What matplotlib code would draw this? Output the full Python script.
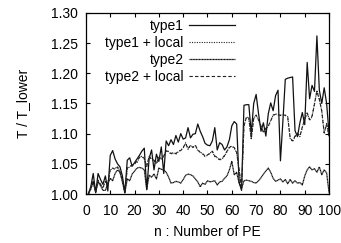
import matplotlib
matplotlib.use("Agg")
import matplotlib.pyplot as plt

plt.rcParams['font.family'] = ['Liberation Sans', 'DejaVu Sans']
plt.rcParams['font.size'] = 10

n = list(range(1, 101))

type1 = [1.000, 1.012, 1.034, 1.002, 1.034, 1.024, 1.016, 1.030, 1.005, 1.064,
         1.072, 1.058, 1.050, 1.045, 1.030, 1.002, 1.056, 1.060, 1.046, 1.052,
         1.058, 1.064, 1.071, 1.076, 1.007, 1.059, 1.073, 1.040, 1.066, 1.054,
         1.078, 1.034, 1.088, 1.080, 1.090, 1.082, 1.097, 1.086, 1.100, 1.091,
         1.093, 1.110, 1.093, 1.099, 1.100, 1.116, 1.104, 1.095, 1.084, 1.081,
         1.080, 1.088, 1.110, 1.073, 1.085, 1.082, 1.073, 1.078, 1.090, 1.113,
         1.120, 1.116, 1.020, 1.006, 1.147, 1.148, 1.148, 1.100, 1.150, 1.165,
         1.133, 1.104, 1.118, 1.096, 1.133, 1.151, 1.138, 1.163, 1.172, 1.055,
         1.120, 1.190, 1.192, 1.193, 1.194, 1.105, 1.095, 1.118, 1.135, 1.115,
         1.218, 1.158, 1.180, 1.170, 1.262, 1.172, 1.150, 1.176, 1.150, 1.100]

type1_local = [1.000, 1.010, 1.020, 1.004, 1.022, 1.015, 1.010, 1.020, 1.018, 1.040,
               1.042, 1.043, 1.044, 1.038, 1.025, 1.003, 1.042, 1.045, 1.048, 1.050,
               1.052, 1.060, 1.063, 1.058, 1.046, 1.062, 1.058, 1.055, 1.050, 1.060,
               1.058, 1.062, 1.072, 1.070, 1.066, 1.068, 1.066, 1.070, 1.073, 1.076,
               1.085, 1.074, 1.080, 1.078, 1.080, 1.072, 1.070, 1.066, 1.062, 1.064,
               1.068, 1.070, 1.062, 1.060, 1.056, 1.058, 1.063, 1.070, 1.078, 1.079,
               1.076, 1.068, 1.040, 1.008, 1.112, 1.128, 1.125, 1.090, 1.126, 1.130,
               1.122, 1.112, 1.102, 1.108, 1.112, 1.122, 1.130, 1.133, 1.131, 1.131,
               1.131, 1.131, 1.128, 1.092, 1.087, 1.095, 1.100, 1.095, 1.110, 1.125,
               1.135, 1.122, 1.128, 1.150, 1.172, 1.156, 1.138, 1.100, 1.117, 1.095]

type2 = [1.000, 1.008, 1.020, 1.003, 1.020, 1.014, 1.006, 1.006, 1.017, 1.026,
         1.022, 1.034, 1.040, 1.036, 1.020, 1.002, 1.025, 1.022, 1.033, 1.038,
         1.043, 1.044, 1.043, 1.040, 1.008, 1.031, 1.028, 1.033, 1.025, 1.043,
         1.041, 1.040, 1.036, 1.028, 1.018, 1.019, 1.021, 1.020, 1.018, 1.024,
         1.031, 1.033, 1.032, 1.030, 1.025, 1.020, 1.012, 1.018, 1.016, 1.022,
         1.020, 1.021, 1.022, 1.015, 1.020, 1.021, 1.026, 1.030, 1.040, 1.054,
         1.032, 1.036, 1.018, 1.009, 1.022, 1.023, 1.022, 1.021, 1.019, 1.018,
         1.022, 1.027, 1.033, 1.038, 1.043, 1.036, 1.026, 1.021, 1.023, 1.025,
         1.020, 1.024, 1.017, 1.024, 1.018, 1.022, 1.018, 1.019, 1.015, 1.030,
         1.040, 1.045, 1.040, 1.042, 1.036, 1.045, 1.032, 1.040, 1.035, 1.002]

type2_local = [1.000, 1.011, 1.021, 1.004, 1.023, 1.016, 1.011, 1.021, 1.016, 1.041,
               1.043, 1.041, 1.045, 1.036, 1.024, 1.003, 1.043, 1.046, 1.047, 1.051,
               1.054, 1.061, 1.062, 1.059, 1.045, 1.063, 1.057, 1.056, 1.051, 1.061,
               1.059, 1.063, 1.071, 1.071, 1.067, 1.069, 1.067, 1.071, 1.072, 1.077,
               1.084, 1.075, 1.081, 1.077, 1.081, 1.073, 1.069, 1.067, 1.063, 1.065,
               1.067, 1.071, 1.063, 1.061, 1.057, 1.059, 1.064, 1.071, 1.077, 1.080,
               1.077, 1.069, 1.041, 1.009, 1.113, 1.127, 1.126, 1.092, 1.125, 1.131,
               1.123, 1.113, 1.103, 1.109, 1.113, 1.121, 1.131, 1.132, 1.132, 1.130,
               1.132, 1.130, 1.127, 1.093, 1.088, 1.096, 1.101, 1.096, 1.111, 1.124,
               1.134, 1.123, 1.129, 1.149, 1.170, 1.157, 1.137, 1.101, 1.116, 1.096]

fig = plt.figure(figsize=(3.41, 2.43), dpi=100)
ax = fig.add_axes([0.252, 0.2016, 0.713, 0.745])

ax.plot(n, type1, color='#111111', lw=0.9, label='type1')
ax.plot(n, type1_local, color='#222222', lw=0.8, ls=(0, (1, 1.2)), label='type1 + local')
ax.plot(n, type2, color='#111111', lw=0.9, ls=(0, (1, 0.25)), label='type2')
ax.plot(n, type2_local, color='#222222', lw=0.8, ls=(0, (3, 2)), label='type2 + local')

ax.set_xlim(0, 100)
ax.set_ylim(1.00, 1.30)
ax.set_xticks(range(0, 101, 10))
ax.set_yticks([1.00, 1.05, 1.10, 1.15, 1.20, 1.25, 1.30])
ax.set_yticklabels(['1.00', '1.05', '1.10', '1.15', '1.20', '1.25', '1.30'])
ax.tick_params(direction='in', top=True, right=True, length=3, width=0.8)
ax.tick_params(axis='x', pad=7)
ax.tick_params(axis='y', pad=6)
for s in ax.spines.values():
    s.set_linewidth(0.9)

ax.set_xlabel('n : Number of PE', labelpad=5)
ax.set_ylabel('T / T_lower', labelpad=15)

# gnuplot style key: labels right-aligned, samples on the right
ax.legend(loc='upper right', bbox_to_anchor=(0.613, 0.965), frameon=False,
          markerfirst=False, handlelength=3.3, handletextpad=0.4,
          labelspacing=0.2, borderpad=0, borderaxespad=0)

fig.savefig('out.png', dpi=100)
